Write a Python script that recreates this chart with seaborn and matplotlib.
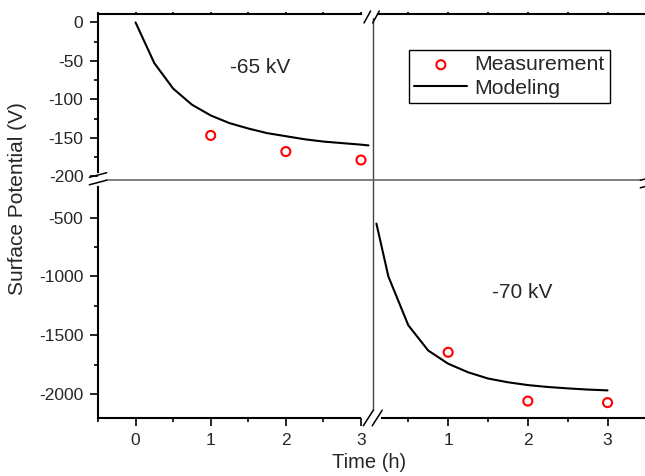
import matplotlib
matplotlib.use("Agg")
import matplotlib.pyplot as plt
import seaborn as sns
import pandas as pd
from matplotlib.lines import Line2D
from matplotlib.ticker import MultipleLocator, FixedLocator

# ---------------- data ----------------
model65_t = [0, 0.25, 0.5, 0.75, 1.0, 1.25, 1.5, 1.75, 2.0, 2.25, 2.5, 2.75, 3.0, 3.1]
model65_v = [0, -53, -86, -107, -121, -131, -138, -144, -148, -152, -155, -157, -159, -160]
meas65_t = [1, 2, 3]
meas65_v = [-147, -168, -179]

model70_t = [0.1, 0.25, 0.5, 0.75, 1.0, 1.25, 1.5, 1.75, 2.0, 2.25, 2.5, 2.75, 3.0]
model70_v = [-550, -1000, -1415, -1630, -1742, -1815, -1868, -1900, -1924, -1940, -1952, -1962, -1969]
meas70_t = [1, 2, 3]
meas70_v = [-1645, -2060, -2073]

left_xticks = [0, 1, 2, 3]
right_xticks = [1, 2, 3]
top_yticks = [0, -50, -100, -150, -200]
bottom_yticks = [-500, -1000, -1500, -2000]

# ---------------- style ----------------
sns.set_style("ticks")
plt.rcParams['font.family'] = ['Liberation Sans', 'DejaVu Sans']
plt.rcParams['axes.unicode_minus'] = False

W, H = 645, 476
fig = plt.figure(figsize=(W / 100, H / 100), dpi=100)


def fx(x):
    return x / W


def fy(y):
    return 1 - y / H


xl, xm = 98, 373
yt, ym, yb = 14, 180, 418

ax_tl = fig.add_axes([fx(xl), fy(ym), fx(xm) - fx(xl), fy(yt) - fy(ym)])
ax_bl = fig.add_axes([fx(xl), fy(yb), fx(xm) - fx(xl), fy(ym) - fy(yb)])
ax_tr = fig.add_axes([fx(xm), fy(ym), 1 - fx(xm), fy(yt) - fy(ym)])
ax_br = fig.add_axes([fx(xm), fy(yb), 1 - fx(xm), fy(ym) - fy(yb)])

df65m = pd.DataFrame({'t': model65_t, 'v': model65_v})
df65s = pd.DataFrame({'t': meas65_t, 'v': meas65_v})
df70m = pd.DataFrame({'t': model70_t, 'v': model70_v})
df70s = pd.DataFrame({'t': meas70_t, 'v': meas70_v})

for ax, dm, ds in [(ax_tl, df65m, df65s), (ax_br, df70m, df70s)]:
    sns.lineplot(data=dm, x='t', y='v', ax=ax, color='black', linewidth=1.5,
                 sort=False, label='Modeling')
    sns.scatterplot(data=ds, x='t', y='v', ax=ax, marker='o', s=42,
                    color='red', facecolors='none', edgecolors='red',
                    linewidths=1.5, label='Measurement', zorder=5)

handles, labels = ax_tl.get_legend_handles_labels()
hmap = dict(zip(labels, handles))
for ax in (ax_tl, ax_br):
    if ax.get_legend() is not None:
        ax.get_legend().remove()

XL = (-0.5, 3.16)
XR = (0.057, 3.47)
YT = (-205, 11)
YB = (-2204, -179)

ax_tl.set_xlim(*XL); ax_tl.set_ylim(*YT)
ax_bl.set_xlim(*XL); ax_bl.set_ylim(*YB)
ax_tr.set_xlim(*XR); ax_tr.set_ylim(*YT)
ax_br.set_xlim(*XR); ax_br.set_ylim(*YB)

for ax in (ax_tl, ax_bl, ax_tr, ax_br):
    ax.set_xlabel('')
    ax.set_ylabel('')
    ax.patch.set_alpha(0)
    for s in ax.spines.values():
        s.set_visible(False)
        s.set_linewidth(1.5)
        s.set_color('black')
    ax.tick_params(which='both', color='black', width=1.2, labelsize=12.5,
                   pad=4.5)

# top-left
ax_tl.spines['top'].set_visible(True)
ax_tl.spines['left'].set_visible(True)
ax_tl.spines['left'].set_bounds(-194, 11)
ax_tl.spines['top'].set_bounds(-0.5, 3.0)
ax_tl.yaxis.set_major_locator(FixedLocator(top_yticks))
ax_tl.yaxis.set_minor_locator(FixedLocator([-25, -75, -125, -175]))
ax_tl.xaxis.set_major_locator(MultipleLocator(1))
ax_tl.xaxis.set_minor_locator(MultipleLocator(0.5))
ax_tl.tick_params(axis='y', which='major', direction='out', length=6, left=True, right=False)
ax_tl.tick_params(axis='y', which='minor', direction='out', length=3, left=True, right=False)
ax_tl.tick_params(axis='x', which='both', direction='out', length=1.8, top=True,
                  bottom=False, labeltop=False, labelbottom=False)

# bottom-left
ax_bl.spines['left'].set_visible(True)
ax_bl.spines['bottom'].set_visible(True)
ax_bl.spines['left'].set_bounds(-2204, -239)
ax_bl.spines['bottom'].set_bounds(-0.5, 2.99)
ax_bl.yaxis.set_major_locator(FixedLocator(bottom_yticks))
ax_bl.yaxis.set_minor_locator(FixedLocator([-750, -1250, -1750]))
ax_bl.xaxis.set_major_locator(FixedLocator(left_xticks))
ax_bl.xaxis.set_minor_locator(FixedLocator([-0.5, 0.5, 1.5, 2.5]))
ax_bl.tick_params(axis='y', which='major', direction='out', length=6, left=True)
ax_bl.tick_params(axis='y', which='minor', direction='out', length=3, left=True)
ax_bl.tick_params(axis='x', which='major', direction='out', length=6, bottom=True)
ax_bl.tick_params(axis='x', which='minor', direction='out', length=3, bottom=True)

# top-right
ax_tr.spines['top'].set_visible(True)
ax_tr.spines['top'].set_bounds(0.12, 3.47)
ax_tr.xaxis.set_major_locator(MultipleLocator(1))
ax_tr.xaxis.set_minor_locator(MultipleLocator(0.5))
ax_tr.tick_params(axis='x', which='both', direction='out', length=1.8, top=True,
                  bottom=False, labeltop=False, labelbottom=False)
ax_tr.tick_params(axis='y', which='both', left=False, right=False,
                  labelleft=False, labelright=False)

# bottom-right
ax_br.spines['bottom'].set_visible(True)
ax_br.spines['bottom'].set_bounds(0.17, 3.47)
ax_br.xaxis.set_major_locator(FixedLocator(right_xticks))
ax_br.xaxis.set_minor_locator(FixedLocator([0.5, 1.5, 2.5]))
ax_br.tick_params(axis='x', which='major', direction='out', length=6, bottom=True)
ax_br.tick_params(axis='x', which='minor', direction='out', length=3, bottom=True)
ax_br.tick_params(axis='y', which='both', left=False, right=False,
                  labelleft=False, labelright=False)

# inner separating lines
fig.add_artist(Line2D([fx(xm), fx(xm)], [fy(18), fy(410)], transform=fig.transFigure,
                      color='#444444', lw=1.0))
fig.add_artist(Line2D([fx(106), fx(640)], [fy(ym), fy(ym)], transform=fig.transFigure,
                      color='#6a6a6a', lw=1.2))


# break marks
def slash(cx, cy, dx, dy):
    fig.add_artist(Line2D([fx(cx - dx), fx(cx + dx)], [fy(cy + dy), fy(cy - dy)],
                          transform=fig.transFigure, color='black', lw=1.1,
                          clip_on=False))


for cx in (367.3, 376.0):
    slash(cx, 17, 3.3, 6)
for cx in (368.3, 377.2):
    slash(cx, 418, 5, 7.8)
for cy in (175, 182.5):
    slash(98, cy, 8.7, 2.3)
    slash(649, cy + 3, 8.7, 2.3)

# annotations
fig.text(fx(260), fy(67.5), '-65 kV', ha='center', va='center', fontsize=15)
fig.text(fx(522), fy(293), '-70 kV', ha='center', va='center', fontsize=15)

fig.text(fx(18), fy(199), 'Surface Potential (V)', rotation=90, ha='center',
         va='center', fontsize=15)
fig.text(fx(369), fy(463), 'Time (h)', ha='center', va='center', fontsize=14.5)

leg = fig.legend(handles=[hmap['Measurement'], hmap['Modeling']],
                 labels=['Measurement', 'Modeling'],
                 loc='upper left', bbox_to_anchor=(fx(409), fy(50)),
                 bbox_transform=fig.transFigure, frameon=True, fancybox=False,
                 shadow=False, framealpha=1, edgecolor='black', fontsize=15.3,
                 handlelength=2.5, handletextpad=0.3, borderpad=0.25,
                 labelspacing=0.2, borderaxespad=0, scatterpoints=1)
leg.get_frame().set_linewidth(1.0)

fig.savefig('out.png', dpi=100)
